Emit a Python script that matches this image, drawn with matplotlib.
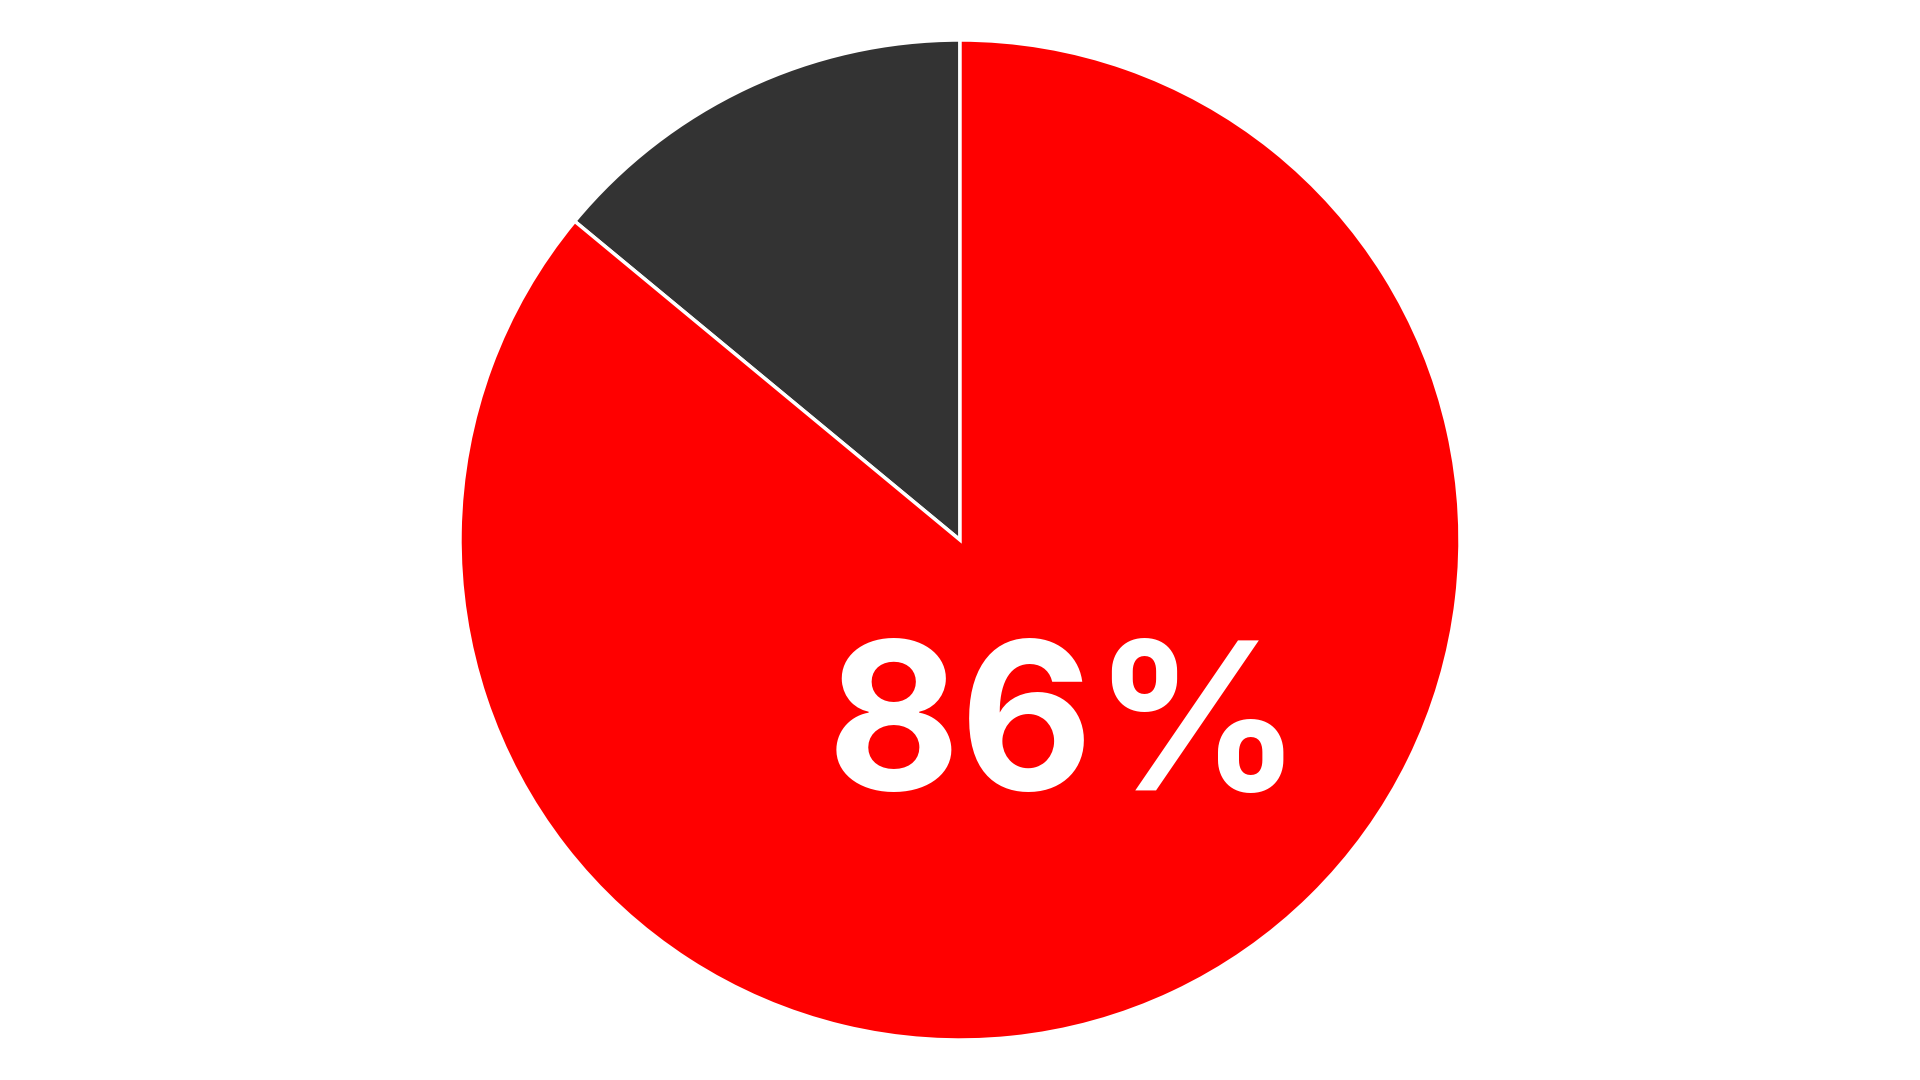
import matplotlib
matplotlib.use("Agg")
import matplotlib.pyplot as plt

labels = ["Yes", "No"]
values = [86, 14]
colors = ["#ff0000", "#333333"]
label_text = "86%"

fig = plt.figure(figsize=(19.2, 10.8), dpi=100)
ax = fig.add_axes([0, 0, 1, 1])
ax.pie(values[::-1], colors=colors[::-1], startangle=90, counterclock=True,
       radius=1.0, wedgeprops=dict(edgecolor="white", linewidth=2.5))
ax.set_xlim(-1.92, 1.92)
ax.set_ylim(-1.08, 1.08)
ax.set_aspect("equal")
ax.axis("off")
ax.text(0.21, -0.35, label_text, color="white", fontsize=148, fontweight="bold",
        family=["Inter", "DejaVu Sans"], ha="center", va="center_baseline")
fig.savefig("out.png", dpi=100, facecolor="white")
